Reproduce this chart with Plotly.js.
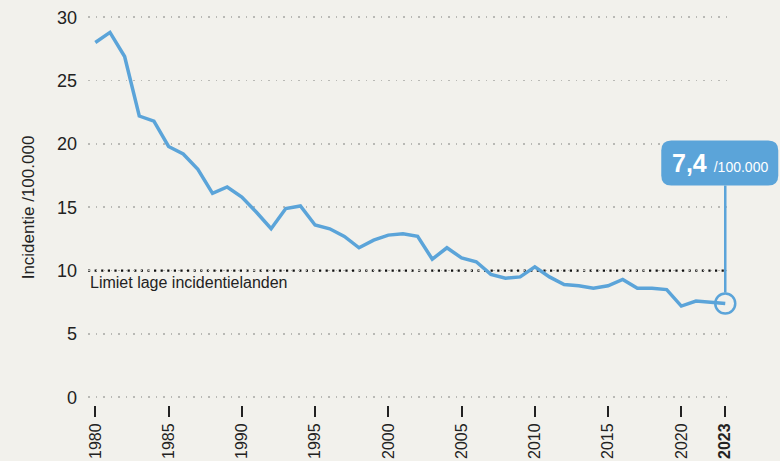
<!DOCTYPE html>
<html>
<head>
<meta charset="utf-8">
<script src="https://cdn.plot.ly/plotly-3.0.1.min.js"></script>
<style>
html,body{margin:0;padding:0;background:#f2f1ec;}
#chart{width:780px;height:461px;}
</style>
</head>
<body>
<div id="chart"></div>
<script>
// ---- data ----
const years = [1980,1981,1982,1983,1984,1985,1986,1987,1988,1989,1990,1991,1992,1993,1994,1995,1996,1997,1998,1999,2000,2001,2002,2003,2004,2005,2006,2007,2008,2009,2010,2011,2012,2013,2014,2015,2016,2017,2018,2019,2020,2021,2022,2023];
const incidence = [28.0,28.8,26.9,22.2,21.8,19.8,19.2,18.0,16.1,16.6,15.8,14.6,13.3,14.9,15.1,13.6,13.3,12.7,11.8,12.4,12.8,12.9,12.7,10.9,11.8,11.0,10.7,9.7,9.4,9.5,10.3,9.5,8.9,8.8,8.6,8.8,9.3,8.6,8.6,8.5,7.2,7.6,7.5,7.4];
const xTickVals = [1980,1985,1990,1995,2000,2005,2010,2015,2020,2023];
const xTickText = ['1980','1985','1990','1995','2000','2005','2010','2015','2020','<b>2023</b>'];
const yTickVals = [0,5,10,15,20,25,30];
const limitValue = 10;
const limitLabel = 'Limiet lage incidentielanden';
const yTitle = 'Incidentie /100.000';
const lastValueText = '7,4';
const unitText = '/100.000';

// ---- styling ----
const BG = '#f2f1ec';
const BLUE = '#5ba4d9';
const FONT = '"Liberation Sans", Arial, sans-serif';
const xRange = [1979.5, 2023.46];
const yRange = [-0.61, 30.57];

const lastX = years[years.length-1];
const lastY = incidence[incidence.length-1];
const ax = (lastX - xRange[0]) / (xRange[1] - xRange[0]);
const ay = (lastY - yRange[0]) / (yRange[1] - yRange[0]);

const trace = {
  x: years, y: incidence, type: 'scatter', mode: 'lines',
  line: {color: BLUE, width: 3.5, shape: 'linear'},
  hoverinfo: 'skip'
};

const layout = {
  width: 780, height: 461,
  paper_bgcolor: BG, plot_bgcolor: BG,
  margin: {l: 88, r: 48, t: 10, b: 56},
  showlegend: false,
  font: {family: FONT, color: '#222', size: 17},
  xaxis: {
    range: xRange, fixedrange: true,
    tickmode: 'array', tickvals: xTickVals, ticktext: xTickText,
    tickangle: -90, ticks: 'outside', ticklen: 11, tickwidth: 2, tickcolor: '#222',
    ticklabelstandoff: 0,
    tickfont: {family: FONT, size: 16, color: '#222'},
    showgrid: false, zeroline: false, showline: false
  },
  yaxis: {
    range: yRange, fixedrange: true,
    tickmode: 'array', tickvals: yTickVals,
    ticks: '', ticklabelstandoff: 10,
    tickfont: {family: FONT, size: 18, color: '#222'},
    showgrid: true, gridcolor: '#b9b9b5', gridwidth: 1.6, griddash: '1.6px,5.9px',
    zeroline: false, showline: false,
    title: {text: yTitle, font: {family: FONT, size: 17, color: '#222'}, standoff: 18}
  },
  shapes: [
    // cover the grey gridline at the limit
    {type: 'line', layer: 'between', xref: 'paper', yref: 'y', x0: 0, x1: 1, y0: limitValue, y1: limitValue,
     line: {color: BG, width: 4}},
    {type: 'line', layer: 'between', xref: 'paper', yref: 'y', x0: 0, x1: 0.993, y0: limitValue, y1: limitValue,
     line: {color: '#111', width: 2.2, dash: '2.2px,4.4px'}},
    // connector
    {type: 'path', layer: 'above', xref: 'paper', yref: 'paper', xsizemode: 'pixel', ysizemode: 'pixel',
     xanchor: ax, yanchor: ay, path: 'M 0,118 L 0,11', line: {color: BLUE, width: 2.5}},
    // circle marker
    {type: 'circle', layer: 'above', xref: 'paper', yref: 'paper', xsizemode: 'pixel', ysizemode: 'pixel',
     xanchor: ax, yanchor: ay, x0: -10, x1: 10, y0: -10, y1: 10,
     line: {color: BLUE, width: 2.5}, fillcolor: 'rgba(0,0,0,0)'},
    // rounded label box
    {type: 'path', layer: 'above', xref: 'paper', yref: 'paper', xsizemode: 'pixel', ysizemode: 'pixel',
     xanchor: ax, yanchor: ay,
     path: 'M -54,118 L 43,118 Q 53,118 53,128 L 53,153 Q 53,163 43,163 L -54,163 Q -64,163 -64,153 L -64,128 Q -64,118 -54,118 Z',
     fillcolor: BLUE, line: {width: 0}}
  ],
  annotations: [
    {xref: 'paper', yref: 'y', x: 0, y: limitValue, xanchor: 'left', yanchor: 'top', yshift: -1,
     text: limitLabel, showarrow: false, font: {family: FONT, size: 16, color: '#222'}},
    {xref: 'paper', yref: 'paper', x: ax, y: ay, xshift: -5, yshift: 141, xanchor: 'center', yanchor: 'middle',
     text: '<b>' + lastValueText + '</b> <span style="font-size:14px">' + unitText + '</span>',
     showarrow: false, font: {family: FONT, size: 25, color: '#ffffff'}}
  ]
};

Plotly.newPlot('chart', [trace], layout, {displayModeBar: false, staticPlot: true});
</script>
</body>
</html>
